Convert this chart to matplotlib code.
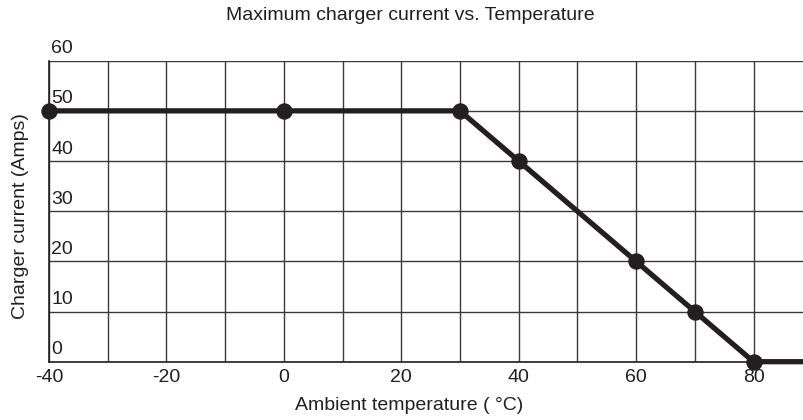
import matplotlib
matplotlib.use("Agg")
import matplotlib.pyplot as plt
import matplotlib.transforms as mtransforms

plt.rcParams['font.family'] = ['Liberation Sans', 'DejaVu Sans']

temps = [-40, 0, 30, 40, 60, 70, 80, 90]
current = [50, 50, 50, 40, 20, 10, 0, 0]
x_ticks = [-40, -20, 0, 20, 40, 60, 80]
x_grid = [-40, -30, -20, -10, 0, 10, 20, 30, 40, 50, 60, 70, 80, 90]
y_ticks = [0, 10, 20, 30, 40, 50, 60]

fig = plt.figure(figsize=(8.04, 4.2), dpi=100)
ax = fig.add_axes([49/804, (420-361.7)/420, 755/804, (361.7-60.7)/420])
ax.set_xlim(-40, 88.6)
ax.set_ylim(0, 60)

gc = '#3a3a3a'
for xv in x_grid:
    ax.axvline(xv, color=gc, lw=1.0, zorder=1)
for yv in y_ticks:
    ax.axhline(yv, color=gc, lw=1.0, zorder=1)

for s in ['top', 'right']:
    ax.spines[s].set_visible(False)
for s in ['left', 'bottom']:
    ax.spines[s].set_color('#231f20')
    ax.spines[s].set_linewidth(1.2)

ax.plot(temps, current, color='#231f20', lw=3.8, marker='o', markersize=10.8,
        markevery=list(range(len(temps) - 1)), solid_capstyle='butt', zorder=3, clip_on=False)

ax.set_xticks(x_ticks)
ax.set_xticklabels([str(v) for v in x_ticks], fontsize=14, color='#231f20')
ax.tick_params(axis='x', length=0, pad=5)
ax.set_yticks([])

trans = mtransforms.blended_transform_factory(ax.transAxes, ax.transData)
off = mtransforms.offset_copy(trans, fig=fig, x=1.5, y=2.5, units='points')
for yv in y_ticks:
    ax.text(0, yv, str(yv), transform=off, ha='left', va='bottom', fontsize=14,
            color='#231f20', clip_on=False, zorder=4)

fig.text(410/804, 1 - 16/420, 'Maximum charger current vs. Temperature', ha='center', va='center',
         fontsize=14, color='#231f20')
fig.text(409.5/804, 1 - 405/420, 'Ambient temperature ( °C)', ha='center', va='center',
         fontsize=14, color='#231f20')
fig.text(21/804, 1 - 216/420, 'Charger current (Amps)', ha='center', va='center', rotation=90,
         fontsize=14, color='#231f20')

fig.savefig('out.png', dpi=100)
